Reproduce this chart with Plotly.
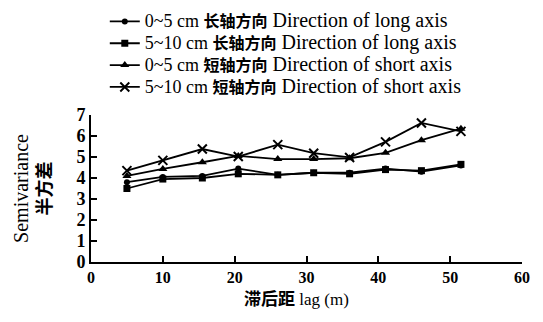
import plotly.graph_objects as go

# Lag distances (m)
lag = [5, 10, 15.5, 20.5, 26, 31, 36, 41, 46, 51.5]

# Semivariance by depth and direction
long_0_5 = [3.8, 4.05, 4.1, 4.45, 4.15, 4.25, 4.25, 4.45, 4.3, 4.6]
long_5_10 = [3.5, 3.95, 4.0, 4.2, 4.15, 4.25, 4.2, 4.4, 4.35, 4.65]
short_0_5 = [4.1, 4.43, 4.75, 5.05, 4.9, 4.9, 4.94, 5.2, 5.8, 6.35]
short_5_10 = [4.35, 4.84, 5.38, 5.02, 5.59, 5.18, 4.98, 5.72, 6.62, 6.22]

depths = ["0~5 cm", "5~10 cm", "0~5 cm", "5~10 cm"]
dir_cn = ["长轴方向", "长轴方向", "短轴方向", "短轴方向"]
dir_en = ["Direction of long axis", "Direction of long axis",
          "Direction of short axis", "Direction of short axis"]

FONT = "Liberation Serif, Noto Sans CJK SC"


def legend_label(depth, cn, en):
    return (f'<span style="font-size:18px">{depth} </span>'
            f'<span style="font-size:16px"><b>{cn}</b></span>'
            f'<span style="font-size:20px"> {en}</span>')


fig = go.Figure()
styles = [
    dict(symbol="circle", size=6),
    dict(symbol="square", size=7),
    dict(symbol="triangle-up", size=8),
    dict(symbol="x-thin-open", size=9, line=dict(width=2, color="black")),
]
all_vals = [long_0_5, long_5_10, short_0_5, short_5_10]
for d, cn, en, vals, mk in zip(depths, dir_cn, dir_en, all_vals, styles):
    fig.add_trace(go.Scatter(
        x=lag, y=vals, name=legend_label(d, cn, en), mode="lines+markers",
        line=dict(color="black", width=1.8),
        marker=dict(color="black", **mk),
    ))

fig.add_annotation(
    text="<b>滞后距</b> lag (m)", xref="paper", yref="paper",
    x=0.476, y=-0.258, xanchor="center", yanchor="middle",
    showarrow=False, font=dict(family=FONT, size=17, color="black"),
)

fig.update_layout(
    width=543, height=322,
    margin=dict(l=91, r=21, t=115, b=60, autoexpand=False),
    paper_bgcolor="white", plot_bgcolor="white",
    font=dict(family=FONT, color="black", size=14),
    showlegend=True,
    legend=dict(
        x=0.032, y=1.745, xanchor="left", yanchor="top",
        font=dict(family=FONT, size=14.5, color="black"),
        tracegroupgap=0, itemwidth=30,
        bgcolor="rgba(0,0,0,0)",
    ),
    xaxis=dict(
        range=[0, 60], tickvals=[0, 10, 20, 30, 40, 50, 60],
        showline=True, linecolor="black", linewidth=2,
        ticks="inside", ticklen=6, tickwidth=1.5, tickcolor="black",
        showgrid=False, zeroline=False,
        tickfont=dict(family=FONT, size=16, weight="bold"),
    ),
    yaxis=dict(
        range=[0, 7], tickvals=[0, 1, 2, 3, 4, 5, 6, 7],
        showline=True, linecolor="black", linewidth=2,
        ticks="inside", ticklen=6, tickwidth=1.5, tickcolor="black",
        showgrid=False, zeroline=False,
        tickfont=dict(family=FONT, size=18, weight="bold"),
        title=dict(
            text='<span style="font-size:20px">Semivariance</span><br><b>半方差</b>',
            font=dict(family=FONT, size=18), standoff=20,
        ),
    ),
)

fig.write_html("out.html")
